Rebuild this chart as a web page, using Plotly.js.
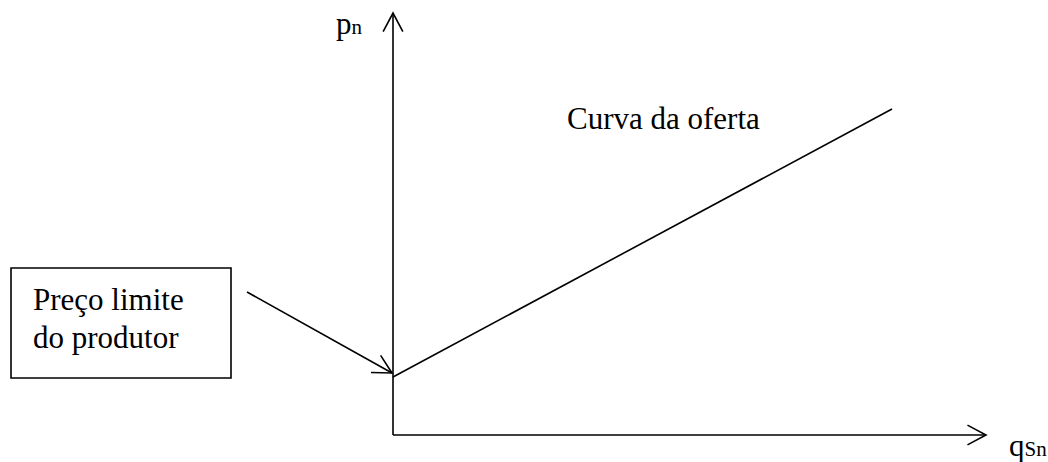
<!DOCTYPE html>
<html>
<head>
<meta charset="utf-8">
<script src="https://cdn.plot.ly/plotly-3.0.1.min.js"></script>
<style>
  html, body { margin: 0; padding: 0; background: #fff; }
  #chart { width: 1048px; height: 462px; }
</style>
</head>
<body>
<div id="chart"></div>
<script>
/* ---- Supply curve (quantity vs price, arbitrary units) ---- */
const QTY   = [0, 9.98];
const PRICE = [1.16, 6.52];

/* ---- Axis extents ---- */
const X_AXIS_END = 11.86;
const Y_AXIS_END = 8.44;

/* ---- Labels ---- */
const CURVE_LABEL = 'Curva da oferta';
const BOX_LINES   = ['Preço limite', 'do produtor'];
const Y_LABEL     = 'p<span style="font-size:21px">n</span>';
const X_LABEL     = 'q<span style="font-size:21px">Sn</span>';

const FONT = { family: 'Liberation Serif', size: 31, color: '#000' };
const INK = '#000';
const LW = 1.6;

// open chevron head at (tx,ty), shaft coming from (fx,fy); axes have equal scale
function headPath(tx, ty, fx, fy) {
  const ang = Math.atan2(fy - ty, fx - tx);
  const len = 0.42, spread = 28 * Math.PI / 180;
  const p1 = [tx + len * Math.cos(ang + spread), ty + len * Math.sin(ang + spread)];
  const p2 = [tx + len * Math.cos(ang - spread), ty + len * Math.sin(ang - spread)];
  return `M${p1[0]},${p1[1]} L${tx},${ty} L${p2[0]},${p2[1]}`;
}

function seg(x0, y0, x1, y1) {
  return { type: 'line', xref: 'x', yref: 'y', x0, y0, x1, y1, line: { color: INK, width: LW } };
}
function head(tx, ty, fx, fy) {
  return { type: 'path', xref: 'x', yref: 'y', path: headPath(tx, ty, fx, fy), line: { color: INK, width: LW } };
}

const ptrFrom = [-2.92, 2.86];
const ptrTo = [-0.02, 1.24];

const shapes = [
  // axes
  seg(0, 0, 0, Y_AXIS_END),
  head(0, Y_AXIS_END, 0, 0),
  seg(0, 0, X_AXIS_END, 0),
  head(X_AXIS_END, 0, 0, 0),
  // pointer from the box to the intercept
  seg(ptrFrom[0], ptrFrom[1], ptrTo[0], ptrTo[1]),
  head(ptrTo[0], ptrTo[1], ptrFrom[0], ptrFrom[1]),
  // label box
  { type: 'rect', xref: 'x', yref: 'y', x0: -7.64, x1: -3.24, y0: 1.14, y1: 3.34,
    line: { color: INK, width: LW }, fillcolor: 'rgba(0,0,0,0)' },
];

const txt = (text, x, y) => ({
  text, x, y, xref: 'x', yref: 'y', xanchor: 'left', yanchor: 'middle',
  showarrow: false, borderpad: 0, font: FONT,
});

const annotations = [
  txt(CURVE_LABEL, 3.46, 6.34),
  txt(BOX_LINES[0], -7.22, 2.72),
  txt(BOX_LINES[1], -7.22, 1.96),
  txt(Y_LABEL, -1.16, 8.24),
  txt(X_LABEL, 12.3, -0.2),
];

const traces = [{
  x: QTY,
  y: PRICE,
  type: 'scatter',
  mode: 'lines',
  line: { color: INK, width: LW },
  hoverinfo: 'skip',
  showlegend: false,
}];

const layout = {
  width: 1048,
  height: 462,
  margin: { l: 0, r: 0, t: 0, b: 0 },
  paper_bgcolor: '#fff',
  plot_bgcolor: '#fff',
  showlegend: false,
  xaxis: { range: [-7.86, 13.1], visible: false, fixedrange: true },
  yaxis: { range: [-0.54, 8.7], visible: false, fixedrange: true },
  shapes,
  annotations,
};

Plotly.newPlot('chart', traces, layout, { displayModeBar: false, staticPlot: true });
</script>
</body>
</html>
